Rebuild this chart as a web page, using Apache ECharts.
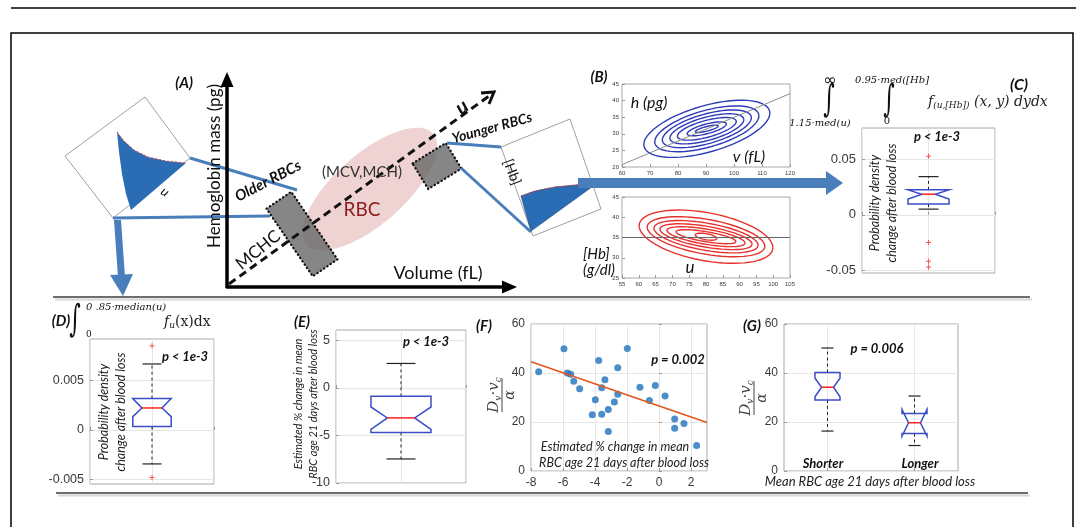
<!DOCTYPE html>
<html lang="en">
<head>
<meta charset="utf-8">
<title>RBC age figure</title>
<script src="https://cdn.jsdelivr.net/npm/echarts@6/dist/echarts.min.js"></script>
<style>
  html, body { margin: 0; padding: 0; background: #fff; }
  #main { width: 1080px; height: 527px; }
</style>
</head>
<body>
<div id="main"></div>
<script>
// ---- values ----
// (B) top: h vs v contours (sheared ellipses around one centre)
var hvCenter = [90.3, 31.5];
var hvTilt = 0.21;
var hvHalfW = [22.5, 18.6, 15.9, 13.2, 10.5, 7.0, 4.1];
var hvHalfH = [7.2, 5.7, 4.6, 3.6, 2.6, 1.5, 0.7];
var hvRefLine = [[60, 20.7], [120, 42.1]];
// (B) bottom: [Hb] vs u contours
var uhCenter = [80, 35.2];
var uhTilt = -0.135;
var uhHalfW = [19.9, 17.5, 15.5, 13.7, 11.6, 8.9, 3.2];
var uhHalfH = [6.0, 4.35, 3.4, 2.6, 1.9, 1.25, 0.75];
var uhRefLine = [[55, 35], [105, 35]];

// notched boxes: [position, whiskerLo, q1, notchLo, median, notchHi, q3, whiskerHi]
var boxC = [1, 0.0051, 0.0096, 0.0141, 0.0185, 0.0224, 0.0224, 0.0343];
var outliersC = [0.0526, -0.0248, -0.0418, -0.0469];
var boxD = [1, -0.00346, 0.00034, 0.00135, 0.00223, 0.00318, 0.00318, 0.0067];
var outliersD = [0.00856, -0.00484];
var boxE = [1, -7.47, -4.68, -4.35, -3.15, -2.0, -0.88, 2.58];
var groupsG = ['Shorter', 'Longer'];
var boxShorter = [1, 16.3, 29.0, 30.3, 34.2, 37.9, 40.2, 50.2];
var boxLonger = [2, 10.4, 15.3, 14.2, 19.7, 25.1, 23.5, 30.6];

// (F) scatter
var ageChange = [-7.52, -5.94, -5.73, -5.52, -5.33, -4.96, -3.77, -3.98, -4.17, -3.58, -3.38, -3.58, -3.17,
  -3.17, -2.79, -2.58, -2.58, -1.98, -1.19, -0.23, -0.60, 0.38, 0.98, 0.98, 1.56, 2.35];
var dvAlpha = [40.5, 49.9, 40.0, 39.5, 36.6, 33.6, 45.1, 29.1, 23.0, 34.0, 37.2, 23.2, 25.1,
  16.1, 28.2, 42.1, 31.3, 50.0, 34.2, 34.9, 28.8, 30.6, 21.2, 17.5, 19.4, 10.4];
var fitLine = [[-8, 44.6], [3, 19.8]];

var ticksC = [-0.05, 0, 0.05];
var ticksD = [-0.005, 0, 0.005];
var ticksE = [-10, -5, 0, 5];
var ticksF = [-8, -6, -4, -2, 0, 2];

// ---- styling ----
var SANS = 'Lato, "Open Sans", sans-serif';
var SERIF = '"DejaVu Serif", "Liberation Serif", serif';
var TICK = '"Liberation Sans", Arial, sans-serif';
var ARROW = '#4a7ebb';
var BOXBLUE = '#3b4cc8';

var chart = echarts.init(document.getElementById('main'));

function gridBox(l, t, w, h) {
  return { left: l, top: t, width: w, height: h, show: true, borderColor: '#a8a8a8', borderWidth: 1 };
}

function axisOpt(grid, min, max, o) {
  o = o || {};
  var a = {
    type: 'value', gridIndex: grid, min: min, max: max,
    axisLine: { show: false },
    axisTick: { show: o.tick !== false, inside: true, length: 3, lineStyle: { color: '#999' } },
    axisLabel: { show: o.label !== false, fontSize: o.fs || 12, color: '#3a3a3a', fontFamily: TICK, margin: o.margin || 6 },
    splitLine: { show: !!o.split, lineStyle: { color: '#e6e6e6', width: 1 } }
  };
  if (o.interval) a.interval = o.interval;
  if (o.values) {
    a.axisLabel.customValues = o.values;
    a.axisTick.customValues = o.values;
  }
  return a;
}

function contourItem(color) {
  return function (params, api) {
    var cx = api.value(0), cy = api.value(1), a = api.value(2), b = api.value(3), s = api.value(4);
    var pts = [];
    for (var k = 0; k <= 72; k++) {
      var t = k / 72 * 2 * Math.PI;
      pts.push(api.coord([cx + a * Math.cos(t), cy + a * s * Math.cos(t) + b * Math.sin(t)]));
    }
    return { type: 'polyline', shape: { points: pts }, style: { stroke: color, lineWidth: 1.4, fill: null } };
  };
}

function notchItem(hb, hn, hc) {
  return function (params, api) {
    var x = api.value(0);
    function py(v) { return api.coord([x, v])[1]; }
    var cx = api.coord([x, api.value(4)])[0];
    var wLo = py(api.value(1)), q1 = py(api.value(2)), nLo = py(api.value(3)), med = py(api.value(4)),
        nHi = py(api.value(5)), q3 = py(api.value(6)), wHi = py(api.value(7));
    var dash = { stroke: '#222', lineWidth: 1, lineDash: [3, 3] };
    var cap = { stroke: '#222', lineWidth: 1.2 };
    return {
      type: 'group', children: [
        { type: 'line', shape: { x1: cx, y1: q3, x2: cx, y2: wHi }, style: dash },
        { type: 'line', shape: { x1: cx, y1: q1, x2: cx, y2: wLo }, style: dash },
        { type: 'line', shape: { x1: cx - hc, y1: wHi, x2: cx + hc, y2: wHi }, style: cap },
        { type: 'line', shape: { x1: cx - hc, y1: wLo, x2: cx + hc, y2: wLo }, style: cap },
        { type: 'polygon', shape: { points: [[cx - hb, q3], [cx - hb, nHi], [cx - hn, med], [cx - hb, nLo], [cx - hb, q1],
          [cx + hb, q1], [cx + hb, nLo], [cx + hn, med], [cx + hb, nHi], [cx + hb, q3]] },
          style: { fill: null, stroke: BOXBLUE, lineWidth: 1.5 } },
        { type: 'line', shape: { x1: cx - hn, y1: med, x2: cx + hn, y2: med }, style: { stroke: '#ff2020', lineWidth: 1.5 } }
      ]
    };
  };
}

var plusSymbol = 'path://M4,0h2v10h-2zM0,4h10v2h-10z';
function outlierData(vals) { return vals.map(function (v) { return [1, v]; }); }

// ---- drawing helpers for the schematic ----
function txt(x, y, s, size, o) {
  o = o || {};
  return {
    type: 'text', x: x, y: y, rotation: o.rot || 0, scaleY: o.sy || 1, z: 100,
    style: {
      text: s, fontSize: size, fontFamily: o.ff || SANS, fontStyle: o.it ? 'italic' : 'normal',
      fontWeight: o.b ? 'bold' : 'normal', fill: o.c || '#111', align: o.al || 'center',
      verticalAlign: 'middle', lineHeight: o.lh, rich: o.rich
    }
  };
}
function seg(x1, y1, x2, y2, color, w, dash) {
  return { type: 'line', z: 50, shape: { x1: x1, y1: y1, x2: x2, y2: y2 },
    style: { stroke: color, lineWidth: w, lineDash: dash || null, lineCap: 'butt' } };
}
function poly(points, fill, stroke, w, z) {
  return { type: 'polygon', z: z || 50, shape: { points: points }, style: { fill: fill, stroke: stroke || null, lineWidth: w || 1 } };
}
function fraction(x, y) {
  var rich = {
    d: { fontFamily: SERIF, fontStyle: 'italic', fontSize: 15, fill: '#444' },
    s: { fontFamily: SERIF, fontStyle: 'italic', fontSize: 9, fill: '#444', padding: [9, 0, 0, 0] }
  };
  return {
    type: 'group', x: x, y: y, rotation: Math.PI / 2, z: 100, children: [
      { type: 'text', x: 0, y: -8, style: { text: '{d|D}{s|v}{d|·v}{s|c}', rich: rich, align: 'center', verticalAlign: 'middle' } },
      { type: 'line', shape: { x1: -17, y1: 0, x2: 17, y2: 0 }, style: { stroke: '#444', lineWidth: 1 } },
      { type: 'text', x: 0, y: 8, style: { text: 'α', fontFamily: SERIF, fontStyle: 'italic', fontSize: 14, fill: '#444', align: 'center', verticalAlign: 'middle' } }
    ]
  };
}
function rotRect(cx, cy, w, h, rot) {
  return { type: 'rect', x: cx, y: cy, rotation: rot, z: 40, shape: { x: -w / 2, y: -h / 2, width: w, height: h },
    style: { fill: 'rgba(100,100,100,0.78)', stroke: '#111', lineWidth: 2.2, lineDash: [0.5, 3.5], lineCap: 'round' } };
}

var graphics = [
  // frame and separators
  seg(11, 8, 1076, 8, '#000', 1.5),
  { type: 'rect', z: 50, shape: { x: 11, y: 33, width: 1062, height: 520 }, style: { fill: null, stroke: '#000', lineWidth: 1.5 } },
  seg(55, 299.5, 1032, 299.5, '#d6d6d6', 2),
  seg(53, 297, 1030, 297, '#6e6e6e', 2.2),
  seg(58, 495.5, 1030, 495.5, '#d6d6d6', 2),
  seg(56, 493, 1028, 493, '#6e6e6e', 2.2),

  // (A) schematic
  { type: 'ellipse', x: 370, y: 189, rotation: 0.72, z: 30, shape: { cx: 0, cy: 0, rx: 84, ry: 35 },
    style: { fill: 'rgba(228,180,180,0.6)' } },
  poly([[65, 156], [145, 97], [190, 158], [113, 218]], '#fff', '#888', 0.8, 35),
  poly([[117, 132], [119, 152], [122, 174], [126, 194], [131, 210], [186, 163], [166, 161], [148, 157], [134, 150], [124, 141]], '#2a6db5', null, 1, 36),
  { type: 'polyline', z: 37, shape: { points: [[117, 132], [124, 141], [134, 150], [148, 157], [166, 161], [186, 163]] },
    style: { stroke: '#e0403a', lineWidth: 1, lineDash: [2, 2] } },
  txt(165, 192, 'u', 13, { it: true, rot: -0.6 }),
  poly([[501, 147], [570, 119], [601, 209], [533, 236]], '#fff', '#888', 0.8, 35),
  poly([[521, 196], [531, 231], [596, 184], [576, 185], [555, 187], [535, 191]], '#2a6db5', '#173f73', 0.6, 36),
  { type: 'polyline', z: 37, shape: { points: [[521, 196], [535, 191], [555, 187], [576, 185], [596, 184]] },
    style: { stroke: '#e0403a', lineWidth: 1, lineDash: [2, 2] } },
  txt(512, 172, '[Hb]', 14, { rot: -Math.PI / 2 + 0.36 }),

  seg(190, 158, 297, 190, ARROW, 3),
  seg(113, 218, 270, 216, ARROW, 3),
  seg(447, 143, 501, 147, ARROW, 3),
  seg(461, 168, 531, 232, ARROW, 3),
  poly([[114, 220], [121, 220], [125, 277], [118, 277]], ARROW),
  poly([[110, 275], [133, 274], [123, 296]], ARROW),

  seg(227, 288, 227, 84, '#000', 3.5),
  poly([[227, 72], [220.5, 87], [233.5, 87]], '#000'),
  seg(226, 287, 504, 287, '#000', 3.5),
  poly([[517, 287], [502, 280.5], [502, 293.5]], '#000'),

  rotRect(302, 234, 30, 82, 0.6),
  rotRect(437, 166, 39, 30, 0.55),
  seg(229, 284, 489, 96, '#111', 3, [8, 5]),
  { type: 'polyline', z: 60, shape: { points: [[481, 93], [494, 92], [489, 104]] }, style: { stroke: '#111', lineWidth: 3 } },

  txt(184, 83, '(A)', 15, { b: true, it: true }),
  txt(215, 166, 'Hemoglobin mass (pg)', 17, { rot: Math.PI / 2 }),
  txt(438, 273, 'Volume (fL)', 18),
  txt(362, 172, '(MCV,MCH)', 15, { c: '#333' }),
  txt(362, 210, 'RBC', 19, { c: '#8a1c1c' }),
  txt(268, 181, 'Older RBCs', 15, { b: true, it: true, rot: 0.48 }),
  txt(492, 128, 'Younger RBCs', 14, { b: true, it: true, rot: 0.27 }),
  txt(258, 250, 'MCHC', 17, { rot: 0.68 }),
  txt(462, 107, 'u', 20, { b: true, it: true, rot: 0.62 }),

  // big arrow into (C)
  { type: 'rect', z: 50, shape: { x: 578, y: 178, width: 250, height: 10 }, style: { fill: ARROW } },
  poly([[826, 171], [826, 195], [843, 183]], ARROW),

  // (B) labels
  txt(599, 77, '(B)', 15, { b: true, it: true }),
  txt(649, 103, 'h (pg)', 16, { it: true }),
  txt(749, 157, 'v (fL)', 16, { it: true }),
  txt(583, 254, '[Hb]', 15, { it: true, al: 'left' }),
  txt(583, 270, '(g/dl)', 15, { it: true, al: 'left' }),
  txt(690, 268, 'u', 17, { it: true }),

  // (C) formula and labels
  txt(830, 81, '∞', 16, { ff: '"DejaVu Sans", sans-serif' }),
  txt(829, 101, '∫', 22, { ff: SERIF, sy: 1.7 }),
  txt(820, 123, '1.15·med(u)', 10, { ff: SERIF, it: true }),
  txt(892, 80, '0.95·med([Hb]', 10, { ff: SERIF, it: true }),
  txt(889, 101, '∫', 22, { ff: SERIF, sy: 1.7 }),
  txt(887, 121, '0', 10, { ff: SERIF }),
  txt(928, 102, '{i|f}{s|(u,[Hb])}{n| (x, y) dydx}', 14, { al: 'left', rich: {
    i: { fontFamily: SERIF, fontStyle: 'italic', fontSize: 14, fill: '#222' },
    s: { fontFamily: SERIF, fontStyle: 'italic', fontSize: 9, fill: '#222', padding: [8, 0, 0, 0] },
    n: { fontFamily: SERIF, fontStyle: 'italic', fontSize: 14, fill: '#222' } } }),
  txt(1019, 85, '(C)', 16, { b: true, it: true }),
  txt(937, 137, 'p < 1e-3', 13, { b: true, it: true }),
  txt(883, 203, 'Probability density\nchange after blood loss', 12.5, { it: true, rot: Math.PI / 2, lh: 17, c: '#222' }),

  // (D)
  txt(61, 321, '(D)', 15, { b: true, it: true }),
  txt(75, 321, '∫', 22, { ff: SERIF, sy: 1.7 }),
  txt(86, 307, '0 .85·median(u)', 10, { ff: SERIF, it: true, al: 'left' }),
  txt(86, 335, '0', 9, { ff: SERIF, al: 'left' }),
  txt(164, 322, '{i|f}{s|u}{n|(x)dx}', 14, { al: 'left', rich: {
    i: { fontFamily: SERIF, fontStyle: 'italic', fontSize: 14, fill: '#222' },
    s: { fontFamily: SERIF, fontStyle: 'italic', fontSize: 9, fill: '#222', padding: [8, 0, 0, 0] },
    n: { fontFamily: SERIF, fontSize: 14, fill: '#222' } } }),
  txt(185, 357, 'p < 1e-3', 13, { b: true, it: true }),
  txt(112, 412, 'Probability density\nchange after blood loss', 12.5, { it: true, rot: Math.PI / 2, lh: 17, c: '#222' }),

  // (E)
  txt(302, 322, '(E)', 15, { b: true, it: true }),
  txt(306, 404, 'Estimated % change in mean\nRBC age 21 days after blood loss', 11, { it: true, rot: Math.PI / 2, lh: 15, c: '#222' }),
  txt(426, 342, 'p < 1e-3', 13, { b: true, it: true }),

  // (F)
  txt(484, 326, '(F)', 15, { b: true, it: true }),
  fraction(502, 395),
  txt(678, 360, 'p = 0.002', 13, { b: true, it: true }),
  txt(615, 447, 'Estimated % change in mean', 12.5, { it: true, c: '#222' }),
  txt(624, 463, 'RBC age 21 days after blood loss', 12.5, { it: true, c: '#222' }),

  // (G)
  txt(752, 326, '(G)', 15, { b: true, it: true }),
  fraction(754, 398),
  txt(877, 349, 'p = 0.006', 13, { b: true, it: true }),
  txt(823, 464, groupsG[0], 13, { b: true, it: true }),
  txt(920, 464, groupsG[1], 13, { b: true, it: true }),
  txt(870, 482, 'Mean RBC age 21 days after blood loss', 13, { it: true, c: '#222' })
];

chart.setOption({
  animation: false,
  grid: [
    gridBox(622, 84, 168, 83),
    gridBox(622, 197, 168, 81),
    gridBox(862, 128, 133, 145),
    gridBox(90, 339, 124, 145),
    gridBox(336, 330, 130, 153),
    gridBox(531, 324, 176, 147),
    gridBox(784, 324, 174, 147)
  ],
  xAxis: [
    axisOpt(0, 60, 120, { interval: 10, fs: 6, margin: 3 }),
    axisOpt(1, 55, 105, { interval: 5, fs: 6, margin: 3 }),
    axisOpt(2, 0, 2, { interval: 1, label: false, split: true }),
    axisOpt(3, 0, 2, { interval: 1, label: false, split: true }),
    axisOpt(4, 0, 2, { interval: 1, label: false, split: true }),
    axisOpt(5, -8, 3, { values: ticksF, split: true }),
    axisOpt(6, 0.5, 2.5, { values: [1, 2], label: false, split: true })
  ],
  yAxis: [
    axisOpt(0, 20, 45, { interval: 5, fs: 6, margin: 3 }),
    axisOpt(1, 25, 45, { interval: 5, fs: 6, margin: 3 }),
    axisOpt(2, -0.0523, 0.078, { values: ticksC, split: true, fs: 13 }),
    axisOpt(3, -0.0055, 0.00924, { values: ticksD, split: true, fs: 12.5 }),
    axisOpt(4, -10, 6.1, { values: ticksE, split: true, fs: 12.5 }),
    axisOpt(5, 0, 60, { interval: 20, split: true }),
    axisOpt(6, 0, 60, { interval: 20, split: true })
  ],
  series: [
    { type: 'line', xAxisIndex: 0, yAxisIndex: 0, data: hvRefLine, symbol: 'none', lineStyle: { color: '#8c8c8c', width: 1 } },
    { type: 'custom', xAxisIndex: 0, yAxisIndex: 0, renderItem: contourItem('#2e3cb8'),
      data: hvHalfW.map(function (a, i) { return [hvCenter[0], hvCenter[1], a, hvHalfH[i], hvTilt]; }) },
    { type: 'line', xAxisIndex: 1, yAxisIndex: 1, data: uhRefLine, symbol: 'none', lineStyle: { color: '#666', width: 1 } },
    { type: 'custom', xAxisIndex: 1, yAxisIndex: 1, renderItem: contourItem('#e6322e'),
      data: uhHalfW.map(function (a, i) { return [uhCenter[0], uhCenter[1], a, uhHalfH[i], uhTilt]; }) },

    { type: 'custom', xAxisIndex: 2, yAxisIndex: 2, renderItem: notchItem(20.5, 6.7, 10), data: [boxC] },
    { type: 'scatter', xAxisIndex: 2, yAxisIndex: 2, data: outlierData(outliersC), symbol: plusSymbol, symbolSize: 5, itemStyle: { color: '#ff2a2a' } },
    { type: 'custom', xAxisIndex: 3, yAxisIndex: 3, renderItem: notchItem(19.2, 10, 9.5), data: [boxD] },
    { type: 'scatter', xAxisIndex: 3, yAxisIndex: 3, data: outlierData(outliersD), symbol: plusSymbol, symbolSize: 5, itemStyle: { color: '#ff2a2a' } },
    { type: 'custom', xAxisIndex: 4, yAxisIndex: 4, renderItem: notchItem(30, 13.7, 14.5), data: [boxE] },

    { type: 'scatter', xAxisIndex: 5, yAxisIndex: 5, symbolSize: 7, itemStyle: { color: '#1f72bd' },
      data: ageChange.map(function (x, i) { return [x, dvAlpha[i]]; }) },
    { type: 'line', xAxisIndex: 5, yAxisIndex: 5, data: fitLine, symbol: 'none', lineStyle: { color: '#e0561c', width: 1.5 } },

    { type: 'custom', xAxisIndex: 6, yAxisIndex: 6, renderItem: notchItem(12.5, 6, 6), data: [boxShorter, boxLonger] }
  ],
  graphic: graphics
});
window.onresize = chart.resize;
</script>
</body>
</html>
